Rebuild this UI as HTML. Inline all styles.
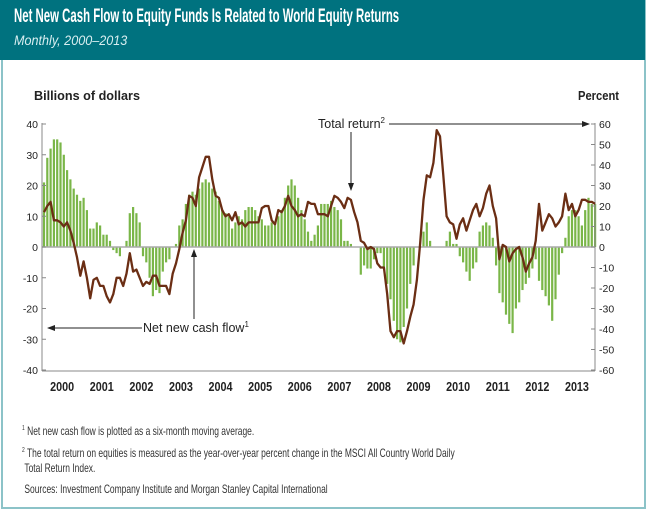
<!DOCTYPE html>
<html><head><meta charset="utf-8"><style>
body{margin:0;width:649px;height:516px;background:#fff;overflow:hidden;font-family:"Liberation Sans Narrow","Liberation Sans",sans-serif;}
#frame{position:absolute;left:1px;top:0;width:641px;height:507px;border:2px solid #8cc3c8;border-top:none;box-sizing:content-box}
#hdr{position:absolute;left:0;top:0;width:645px;height:60px;background:#00727f;}
#title{position:absolute;left:14px;top:5px;color:#fff;font-weight:bold;font-size:19.5px;white-space:nowrap;transform:scaleX(0.585);transform-origin:0 0;}
#sub{position:absolute;left:14px;top:32px;color:#d8eef0;font-style:italic;font-size:14px;white-space:nowrap;transform:scaleX(0.9);transform-origin:0 0;}
.fn{position:absolute;left:22px;font-size:12px;color:#333;white-space:nowrap;transform:scaleX(0.705);transform-origin:0 0;}
sup{font-size:7px}
</style></head><body>
<div id="frame"></div>
<div id="hdr">
<div id="title">Net New Cash Flow to Equity Funds Is Related to World Equity Returns</div>
<div id="sub">Monthly, 2000–2013</div>
</div>
<svg id="chart" width="649" height="516" style="position:absolute;left:0;top:0"></svg>
<div class="fn" style="top:424px"><sup>1</sup> Net new cash flow is plotted as a six-month moving average.</div>
<div class="fn" style="top:443px;line-height:15px"><sup>2</sup> The total return on equities is measured as the year-over-year percent change in the MSCI All Country World Daily<br>&nbsp;Total Return Index.</div>
<div class="fn" style="top:482px">&nbsp;Sources: Investment Company Institute and Morgan Stanley Capital International</div>
<script>
const years=["2000","2001","2002","2003","2004","2005","2006","2007","2008","2009","2010","2011","2012","2013"];
const leftTicks=[40,30,20,10,0,-10,-20,-30,-40];
const rightTicks=[60,50,40,30,20,10,0,-10,-20,-30,-40,-50,-60];
const cashFlow=[21,29,32,35,35,34,30,25,22,19,17,15,
16,12,6,6,8,7,4,4,2,-1,-2,-3,
0,2,11,13,11,8,-3,-5,-10,-16,-14,-15,
-8,-5,-4,0,1,7,9,14,17,18,17,19,
21,22,21,19,18,15,12,11,10,6,8,10,
9,12,13,13,12,10,9,7,7,8,7,10,
12,16,20,22,20,16,12,9,5,2,4,7,
14,14,14,15,13,12,9,2,2,1,0,0,
-9,-6,-7,-7,-4,-2,-2,-7,-12,-17,-24,-30,
-31,-26,-20,-12,-6,0,0,5,8,2,0,0,
0,0,2,5,1,1,-3,-5,-8,-11,-7,-5,
5,7,8,7,3,-6,-15,-18,-22,-25,-28,-20,
-18,-14,-12,-10,-7,-4,-11,-14,-16,-19,-24,-17,
-9,-2,3,10,12,12,10,7,12,16,14,14];
const totalReturn=[17,20,22,13,13,12,10,12,8,2,-5,-14,
-7,-15,-25,-16,-15,-19,-19,-24,-27,-23,-15,-15,
-19,-13,-3,-12,-11,-15,-19,-17,-18,-14,-14,-19,
-19,-19,-23,-13,-8,-1,7,13,25,24,20,34,
39,44,44,33,25,24,18,15,16,13,17,11,
12,10,12,12,12,12,19,20,20,13,11,18,
17,20,25,20,18,15,16,15,22,21,21,16,
16,16,15,20,25,24,22,19,24,23,17,12,
3,2,-1,0,-1,-8,-10,-10,-23,-41,-44,-41,
-41,-47,-41,-34,-28,-16,2,23,35,34,41,57,
54,35,15,12,11,4,11,14,8,13,18,21,
15,19,26,30,20,14,-6,1,0,-7,-3,-1,
0,-5,-12,-8,-5,3,21,8,12,16,14,10,
12,15,26,18,21,15,18,23,23,22,22,21];
const NS="http://www.w3.org/2000/svg";
const svg=document.getElementById('chart');
const X0=44,DX=3.3,Y0=247;
function xm(m){return X0+DX*m;}
function yL(v){return Y0-v*3.075;}
function yR(v){return Y0-v*2.05;}
function mk(t,a){const e=document.createElementNS(NS,t);for(const k in a)e.setAttribute(k,a[k]);svg.appendChild(e);return e;}
function txt(s,x,y,a,extra){const e=mk('text',Object.assign({x:x,y:y,'text-anchor':a,'font-family':'"Liberation Sans Narrow","Liberation Sans",sans-serif','font-size':11,fill:'#222'},extra||{}));e.textContent=s;return e;}
cashFlow.forEach((v,i)=>{const y=yL(v);const b=mk('rect',{x:xm(i)-1.1,y:Math.min(y,Y0),width:2.2,height:Math.abs(Y0-y),fill:'#7ab648'});

});
const z=mk('line',{x1:42,x2:595,y1:Y0,y2:Y0,stroke:'#aaa','stroke-width':1.5});


const la=mk('line',{x1:42,x2:42,y1:123,y2:371,stroke:'#888'});


const ra=mk('line',{x1:595,x2:595,y1:123,y2:371,stroke:'#888'});


const ba=mk('line',{x1:42,x2:595,y1:371,y2:371,stroke:'#888'});


leftTicks.forEach(v=>{mk('line',{x1:42,x2:46,y1:yL(v),y2:yL(v),stroke:'#888'});
const t=txt(String(v),38,yL(v)+4,'end',{'font-size':10.5});

});
rightTicks.forEach(v=>{mk('line',{x1:591,x2:595,y1:yR(v),y2:yR(v),stroke:'#888'});
const t=txt(String(v),599,yR(v)+4,'start',{'font-size':10.5});

});
years.forEach((s,i)=>{const t=txt(s,xm(i*12+5.5)-12,391,'start',{'font-size':12.5,'font-weight':'bold',textLength:24,lengthAdjust:'spacingAndGlyphs'});

});
const pts=totalReturn.map((v,i)=>xm(i).toFixed(1)+','+yR(v).toFixed(1)).join(' ');
const pl=mk('polyline',{points:pts,fill:'none',stroke:'#6b2e14','stroke-width':2.3,'stroke-linejoin':'round'});


const a1=txt('Billions of dollars',34,100,'start',{'font-size':13,'font-weight':'bold',textLength:106,lengthAdjust:'spacingAndGlyphs'});


const a2=txt('Percent',578,100,'start',{'font-size':13,'font-weight':'bold',textLength:41,lengthAdjust:'spacingAndGlyphs'});


mk('defs',{}).innerHTML='<marker id="ah" markerWidth="8" markerHeight="6" refX="7" refY="3" orient="auto"><path d="M0,0 L8,3 L0,6z" fill="#222"/></marker>';
const t1=txt('',318,128,'start',{'font-size':12.5});
t1.innerHTML='Total return<tspan font-size="8" dy="-5">2</tspan>';


mk('line',{x1:389,x2:589,y1:124,y2:124,stroke:'#222','marker-end':'url(#ah)'});
mk('line',{x1:351,x2:351,y1:132,y2:190,stroke:'#222','marker-end':'url(#ah)'});
const t2=txt('',143,332,'start',{'font-size':12.5});
t2.innerHTML='Net new cash flow<tspan font-size="8" dy="-5">1</tspan>';


mk('line',{x1:142,x2:48,y1:328,y2:328,stroke:'#222','marker-end':'url(#ah)'});
mk('line',{x1:194,x2:194,y1:319,y2:250,stroke:'#222','marker-end':'url(#ah)'});
</script>
</body></html>
